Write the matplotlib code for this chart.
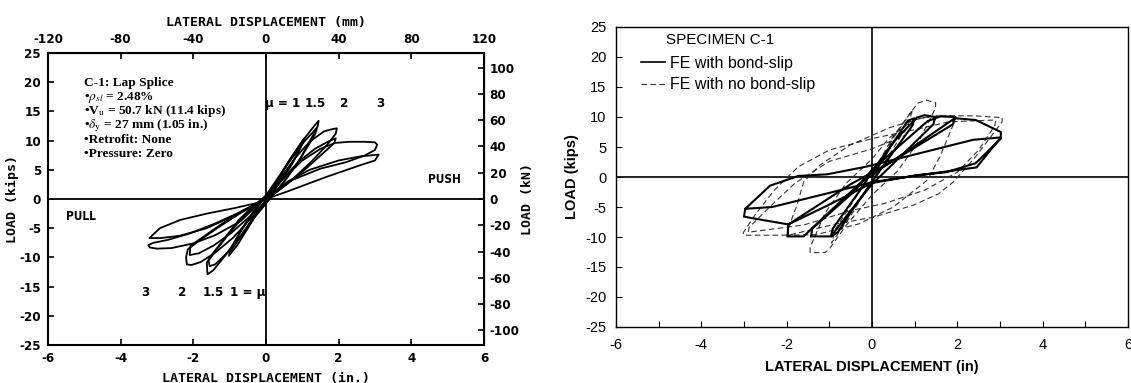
import matplotlib
matplotlib.use("Agg")
import matplotlib.pyplot as plt
from matplotlib.lines import Line2D
from matplotlib import font_manager

plt.rcParams['mathtext.fontset'] = 'stix'
plt.rcParams['axes.unicode_minus'] = False

# ---------------- data: experimental (left panel), in / kips ----------------
exp_c1a_x = [0.0, 0.3, 0.6, 0.9, 1.05, 1.0, 0.75, 0.4, 0.1, -0.2, -0.5, -0.8, -1.02, -0.98, -0.7, -0.35, 0.0]
exp_c1a_y = [0.0, 3.0, 6.2, 9.0, 10.4, 9.4, 6.4, 3.0, 0.6, -2.0, -5.0, -8.0, -9.7, -8.8, -5.6, -2.2, 0.4]
exp_c1b_x = [0.0, 0.3, 0.6, 0.9, 1.0, 0.95, 0.7, 0.35, 0.05, -0.25, -0.55, -0.85, -1.0, -0.95, -0.65, -0.3, 0.0]
exp_c1b_y = [0.4, 3.2, 6.0, 8.6, 9.8, 8.8, 5.8, 2.6, 0.2, -2.4, -5.2, -7.8, -9.2, -8.2, -5.0, -1.8, 0.6]
exp_c15a_x = [0.0, 0.35, 0.7, 1.05, 1.3, 1.45, 1.42, 1.25, 0.95, 0.6, 0.3, 0.0, -0.35, -0.75, -1.15, -1.45, -1.61, -1.63, -1.5, -1.15, -0.75, -0.35, 0.0]
exp_c15a_y = [0.2, 3.6, 7.2, 10.3, 12.3, 13.4, 12.4, 10.4, 7.0, 3.8, 1.4, -0.6, -3.2, -6.8, -9.9, -12.2, -12.9, -10.9, -9.6, -6.8, -3.6, -1.2, 0.6]
exp_c15b_x = [0.0, 0.35, 0.7, 1.05, 1.3, 1.4, 1.36, 1.15, 0.85, 0.5, 0.2, 0.0, -0.35, -0.75, -1.1, -1.4, -1.55, -1.58, -1.4, -1.05, -0.65, -0.3, 0.0]
exp_c15b_y = [0.6, 3.8, 7.0, 9.8, 11.5, 12.2, 11.2, 9.0, 6.0, 3.0, 0.8, -0.8, -3.4, -6.8, -9.4, -11.2, -11.5, -10.5, -9.0, -6.2, -3.2, -1.0, 0.4]
exp_c2a_x = [0.0, 0.4, 0.8, 1.2, 1.6, 1.85, 1.95, 1.92, 1.7, 1.25, 0.7, 0.25, 0.0, -0.4, -0.9, -1.4, -1.8, -2.05, -2.18, -2.2, -2.15, -1.85, -1.3, -0.7, -0.25, 0.0]
exp_c2a_y = [0.3, 3.6, 7.0, 9.8, 11.6, 12.0, 12.1, 11.2, 9.4, 6.4, 3.2, 1.0, -0.3, -3.2, -6.6, -9.2, -10.8, -11.3, -11.2, -10.0, -8.6, -7.2, -4.8, -2.4, -0.8, 0.2]
exp_c2b_x = [0.0, 0.45, 0.9, 1.35, 1.7, 1.92, 1.88, 1.6, 1.1, 0.55, 0.15, 0.0, -0.45, -0.95, -1.45, -1.85, -2.1, -2.08, -1.8, -1.25, -0.65, -0.2, 0.0]
exp_c2b_y = [0.2, 3.4, 6.4, 8.6, 9.8, 10.4, 9.6, 8.0, 5.2, 2.4, 0.6, -0.4, -3.0, -5.8, -8.0, -9.3, -9.6, -8.0, -6.8, -4.4, -2.0, -0.6, 0.2]
exp_c3a_x = [0.0, 0.5, 1.0, 1.5, 1.9, 2.3, 2.7, 3.0, 3.06, 3.0, 2.7, 2.2, 1.5, 0.7, 0.2, 0.0, -0.7, -1.4, -2.0, -2.6, -3.0, -3.2, -3.24, -3.1, -2.7, -2.1, -1.4, -0.7, 0.0]
exp_c3a_y = [0.3, 3.6, 6.6, 8.6, 9.6, 9.8, 9.8, 9.7, 9.3, 8.4, 7.4, 6.3, 5.2, 3.2, 1.3, 0.4, -3.8, -6.2, -7.6, -8.4, -8.5, -8.3, -7.9, -7.5, -7.0, -5.9, -4.2, -2.2, 0.0]
exp_c3b_x = [0.0, 0.6, 1.2, 2.0, 2.6, 3.1, 3.0, 2.6, 1.67, 0.57, 0.0, -0.8, -1.63, -2.37, -2.92, -3.21, -2.92, -2.37, -1.63, -0.9, -0.26, 0.0]
exp_c3b_y = [0.0, 3.0, 5.0, 6.6, 7.3, 7.6, 6.6, 5.8, 3.8, 1.25, 0.0, -2.6, -5.0, -6.3, -6.7, -6.7, -5.0, -3.6, -2.5, -1.6, -0.7, 0.0]

exp_cycles = [(exp_c1a_x, exp_c1a_y), (exp_c1b_x, exp_c1b_y),
              (exp_c15a_x, exp_c15a_y), (exp_c15b_x, exp_c15b_y),
              (exp_c2a_x, exp_c2a_y), (exp_c2b_x, exp_c2b_y),
              (exp_c3a_x, exp_c3a_y), (exp_c3b_x, exp_c3b_y)]

# ---------------- data: FE (right panel), in / kips ----------------
fe_bs_x = [0.0, 0.45, 0.84, 1.0, 0.95, 0.3, 0.0, -0.45, -0.8, -0.96, -0.92, -0.3, 0.0,
           0.5, 1.05, 1.23, 1.48, 1.44, 0.45, 0.0, -0.5, -0.96, -1.43, -1.4, -0.4, 0.0,
           1.3, 1.6, 1.95, 1.9, 0.46, -0.2, -1.4, -1.6, -1.98, -1.96, -0.5, 0.46, 1.94,
           2.43, 3.02, 3.02, 2.43, 1.74, 1.05, 0.0, -1.0, -1.96, -2.78, -3.0, -2.97, -2.39,
           -1.73, -1.05, -0.15, 2.37, 3.02, 2.45, 1.0, 0.05, -2.34, -2.97]
fe_bs_y = [0.0, 5.2, 9.4, 9.8, 8.6, 2.2, -0.8, -5.4, -9.2, -9.9, -8.6, -2.4, 0.9,
           5.8, 9.9, 10.3, 10.0, 8.8, 1.9, -1.2, -5.6, -9.9, -9.9, -8.6, -2.3, 1.2,
           9.3, 10.1, 10.0, 8.8, 2.55, -0.5, -8.5, -9.9, -9.9, -7.9, -1.2, 2.55, 9.8,
           9.5, 7.5, 6.4, 2.3, 0.8, 0.3, -1.0, -4.6, -7.9, -6.9, -6.6, -5.3, -1.45,
           0.17, 0.45, 1.7, 6.2, 6.6, 1.6, 0.2, -0.8, -5.0, -5.3]

fe_nb_x = [0.0, 0.5, 0.95, 0.85, 0.3, 0.0, -0.5, -0.95, -0.85, -0.3, 0.0,
           0.5, 1.07, 1.27, 1.49, 1.49, 1.1, 0.6, 0.0, -0.6, -1.0, -1.1, -1.45, -1.45, -1.1, -0.6, 0.0, 0.4,
           1.0, 1.5, 1.95, 1.92, 1.6, 1.3, 0.5, -0.3, -1.3, -1.96, -1.96, -1.76, -1.6, -1.22, -0.52, 0.4, 1.2,
           1.6, 2.4, 3.05, 3.05, 2.43, 1.91, 1.56, 0.97, 0.03, -0.83, -1.96, -3.0, -3.02, -2.72, -2.29,
           -1.73, -1.0, 0.0, 1.14, 1.8,
           2.9, 2.88, 2.5, 2.0, 1.23, 0.3, -0.5, -1.6, -2.9, -2.88, -2.4, -1.8, -1.0, 0.0, 0.8]
fe_nb_y = [0.0, 6.5, 11.2, 8.8, 2.5, -0.5, -6.5, -11.0, -8.6, -2.5, 0.5,
           6.8, 12.3, 12.8, 12.4, 11.5, 6.0, 1.0, -3.0, -8.0, -12.0, -12.6, -12.6, -11.7, -6.0, -1.0, 3.0, 6.5,
           9.6, 10.2, 10.1, 9.0, 3.5, -0.5, -5.0, -7.8, -9.6, -9.7, -8.5, -4.7, -0.8, 2.0, 5.3, 8.2, 9.9,
           10.2, 10.2, 9.9, 9.2, 3.4, -0.8, -2.8, -4.7, -6.7, -7.8, -9.7, -9.7, -9.3, -6.1, -2.2,
           1.7, 4.5, 6.4, 8.1, 9.2,
           9.5, 8.6, 4.5, 0.8, -2.2, -4.4, -5.6, -8.0, -9.2, -8.4, -5.0, -1.0, 2.6, 4.7, 7.0]

# tick values / labels
x_ticks_in = [-6, -4, -2, 0, 2, 4, 6]
y_ticks_kips = [-25, -20, -15, -10, -5, 0, 5, 10, 15, 20, 25]
x_ticks_mm = [-120, -80, -40, 0, 40, 80, 120]
y_ticks_kn = [-100, -80, -60, -40, -20, 0, 20, 40, 60, 80, 100]
info_lines = ["C-1: Lap Splice",
              "\u2022$\\rho_{sl}$ = 2.48%",
              "\u2022V$_{\\mathrm{u}}$ = 50.7 kN (11.4 kips)",
              "\u2022$\\delta_{\\mathrm{y}}$ = 27 mm (1.05 in.)",
              "\u2022Retrofit: None",
              "\u2022Pressure: Zero"]
mu_top = ["\u03bc = 1", "1.5", "2", "3"]
mu_bottom = ["3", "2", "1.5", "1 = \u03bc"]


def pick_narrow():
    for fam, stretch in (('Liberation Sans Narrow', 'normal'),
                         ('DejaVu Sans', 'condensed'),
                         ('Liberation Sans', 'normal')):
        try:
            fp = font_manager.FontProperties(family=fam, stretch=stretch, weight='bold')
            path = font_manager.findfont(fp, fallback_to_default=False)
            if fam == 'DejaVu Sans' and 'Condensed' not in path:
                continue
            return fam, stretch
        except Exception:
            continue
    return 'Liberation Sans', 'normal'


nfam, nstretch = pick_narrow()
narrow = dict(family=nfam, stretch=nstretch, weight='bold', size=9.5)

W, H = 1131, 383
fig = plt.figure(figsize=(W / 100, H / 100), dpi=100)

# ================= LEFT PANEL (test) =================
ax1 = fig.add_axes([48 / W, 1 - 345 / H, 436 / W, 292 / H])
mono = dict(family='DejaVu Sans Mono', weight='bold', size=9.5)

for cx, cy in exp_cycles:
    ax1.plot(cx, cy, color='black', lw=1.3, solid_joinstyle='round')
ax1.axhline(0, color='black', lw=1.3)
ax1.axvline(0, color='black', lw=1.3)
ax1.set_xlim(-6, 6)
ax1.set_ylim(-25, 25)
ax1.set_xticks(x_ticks_in)
ax1.set_yticks(y_ticks_kips)
ax1.tick_params(direction='in', length=4, width=1.2, pad=5)
for lab in ax1.get_xticklabels() + ax1.get_yticklabels():
    lab.set(**narrow)
for s in ax1.spines.values():
    s.set_linewidth(1.5)
ax1.set_xlabel("LATERAL DISPLACEMENT (in.)", labelpad=5, **mono)
ax1.set_ylabel("LOAD (kips)", labelpad=0, **mono)

top = ax1.secondary_xaxis('top', functions=(lambda v: v * 20, lambda v: v / 20))
top.set_xticks(x_ticks_mm)
top.tick_params(direction='in', length=4, width=1.2, pad=5)
for lab in top.get_xticklabels():
    lab.set(**narrow)
top.set_xlabel("LATERAL DISPLACEMENT (mm)", labelpad=5, **mono)

right = ax1.secondary_yaxis('right', functions=(lambda v: v * 4.448, lambda v: v / 4.448))
right.set_yticks(y_ticks_kn)
right.tick_params(direction='in', length=4, width=1.2, pad=4)
for lab in right.get_yticklabels():
    lab.set(**narrow)
right.set_ylabel("LOAD (kN)", labelpad=1, **mono)

for i, line in enumerate(info_lines):
    ax1.text(-5.0, 19.35 - i * 2.42, line, family='Liberation Serif', size=9.6,
             weight='bold', va='baseline', ha='left')
mu_kw = dict(family=nfam, stretch=nstretch, weight='bold', size=9.5,
             va='center', ha='center')
for lab, xp in zip(mu_top, [0.45, 1.35, 2.14, 3.16]):
    ax1.text(xp, 16.3, lab, **mu_kw)
for lab, xp in zip(mu_bottom, [-3.31, -2.32, -1.46, -0.5]):
    ax1.text(xp, -16.0, lab, **mu_kw)
ax1.text(4.9, 3.4, "PUSH", **dict(mu_kw, size=8.5))
ax1.text(-5.09, -3.0, "PULL", **dict(mu_kw, size=8.5))

# ================= RIGHT PANEL (FE) =================
ax2 = fig.add_axes([616 / W, 1 - 327 / H, 512 / W, 300 / H])
arial = dict(family='Liberation Sans', size=10.5)
ax2.plot(fe_nb_x, fe_nb_y, color='#333333', lw=0.8, linestyle=(0, (5, 3)),
         label='FE with no bond-slip', zorder=2)
ax2.plot(fe_bs_x, fe_bs_y, color='black', lw=1.5, label='FE with bond-slip',
         solid_joinstyle='miter', zorder=3)
ax2.axhline(0, color='black', lw=1.2, zorder=1)
ax2.axvline(0, color='black', lw=1.2, zorder=1)
ax2.set_xlim(-6, 6)
ax2.set_ylim(-25, 25)
ax2.set_xticks(x_ticks_in)
ax2.set_xticks(range(-6, 7), minor=True)
ax2.set_yticks(y_ticks_kips)
ax2.tick_params(axis='both', which='both', direction='in', length=4, width=0.8)
ax2.tick_params(axis='x', pad=8)
ax2.tick_params(axis='y', pad=7)
for lab in ax2.get_xticklabels() + ax2.get_yticklabels():
    lab.set(**arial)
for s in ax2.spines.values():
    s.set_linewidth(1.0)
ax2.set_xlabel("LATERAL DISPLACEMENT (in)", labelpad=6, weight='bold', **arial)
ax2.set_ylabel("LOAD (kips)", labelpad=4, weight='bold', **arial)

ax2.text(0.098, 0.957, "SPECIMEN C-1", transform=ax2.transAxes, ha='left', va='center',
         family='Liberation Sans', size=11)
handles = [Line2D([], [], color='black', lw=1.2),
           Line2D([], [], color='#333333', lw=0.8, linestyle=(0, (5, 3)))]
ax2.legend(handles, ['FE with bond-slip', 'FE with no bond-slip'],
           loc='upper left', frameon=False,
           bbox_to_anchor=(0.036, 0.925), borderaxespad=0.0,
           handlelength=1.5, handletextpad=0.3, labelspacing=0.4,
           prop=dict(family='Liberation Sans', size=11.5))

fig.savefig("out.png", dpi=100)
